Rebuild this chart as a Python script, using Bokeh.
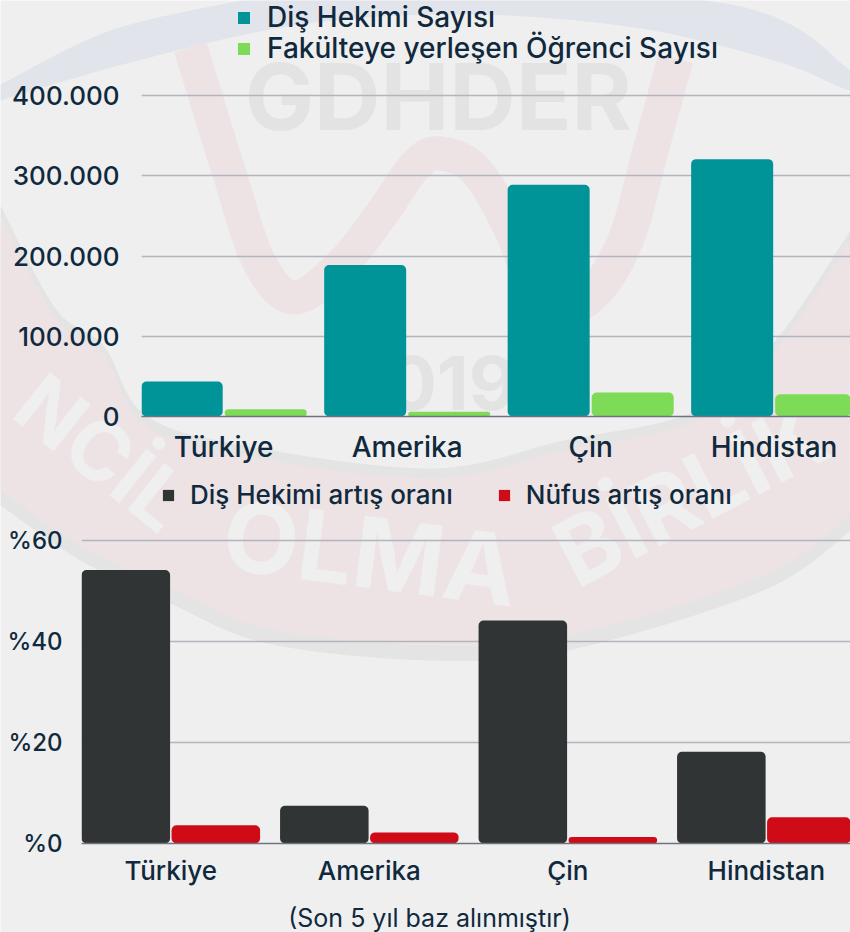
import numpy as np
from bokeh.core.properties import value
from bokeh.embed import file_html
from bokeh.resources import INLINE
from bokeh.plotting import figure
from bokeh.layouts import column
from bokeh.models import Range1d, FixedTicker, Legend, LegendItem

# ---------- data ----------
countries = ["Türkiye", "Amerika", "Çin", "Hindistan"]
dentists = [43600, 189000, 289000, 321000]
students = [9000, 5800, 30000, 27800]
dentist_growth = [54.2, 7.5, 44.2, 18.2]
population_growth = [3.6, 2.2, 1.3, 5.2]
ticks_top = [0, 100000, 200000, 300000, 400000]
tick_labels_top = ["0", "100.000", "200.000", "300.000", "400.000"]
ticks_bottom = [0, 20, 40, 60]
tick_labels_bottom = ["%0", "%20", "%40", "%60"]

FONT = "Inter Medium, Inter"
INK = "#10293d"
BG = "#efefef"
PINK = "#ede3e4"
BLUE = "#e1e4eb"
SHADE = "#e4e4e4"
MARK = "#e3e3e3"
GRID = "#b2b5bd"
AXIS = "#6d7480"


def smooth(pts, n=14):
    pts = np.array(pts, dtype=float)
    p = np.vstack([pts[0], pts, pts[-1]])
    out = []
    for i in range(1, len(p) - 2):
        for t in np.linspace(0, 1, n, endpoint=False):
            out.append(0.5 * ((2 * p[i]) + (-p[i - 1] + p[i + 1]) * t
                              + (2 * p[i - 1] - 5 * p[i] + 4 * p[i + 1] - p[i + 2]) * t ** 2
                              + (-p[i - 1] + 3 * p[i] - 3 * p[i + 1] + p[i + 2]) * t ** 3))
    out.append(pts[-1])
    return np.array(out)


def ribbon(pts, w):
    c = smooth(pts)
    d = np.gradient(c, axis=0)
    d /= np.maximum(np.hypot(d[:, 0], d[:, 1])[:, None], 1e-6)
    nrm = np.column_stack([-d[:, 1], d[:, 0]])
    return np.vstack([c + nrm * w / 2, (c - nrm * w / 2)[::-1]])


def closed(upper, lower):
    return np.vstack([smooth(upper), smooth(lower)])


# ---------- page background: the faded logo behind both charts ----------
back = figure(width=850, height=932, x_range=Range1d(0, 850), y_range=Range1d(932, 0), toolbar_location=None,
              output_backend="svg", min_border=0, background_fill_color=BG, border_fill_color=BG,
              outline_line_color=None, frame_align=False,
              styles={"position": "absolute", "left": "0", "top": "0"})
back.axis.visible = False
back.grid.visible = False
crescent_top = [(0, 215), (55, 318), (103, 355), (143, 423), (233, 453), (430, 478), (563, 450), (697, 420),
                (775, 350), (850, 240)]
crescent_low = [(850, 515), (763, 575), (567, 635), (430, 645), (267, 628), (170, 588), (80, 545), (0, 490)]
shapes = [
    (BLUE, closed([(0, 84), (110, 30), (240, 0)], [(240, 0), (705, 0), (850, 70), (850, 90), (780, 62),
                                                   (640, 28), (470, 14), (300, 24), (130, 62), (0, 100)])),
    (SHADE, closed([(x, y - 10) for x, y in crescent_top], [(x, y + 15) for x, y in crescent_low])),
    (PINK, closed(crescent_top, crescent_low)),
    (PINK, ribbon([(190, 47), (228, 170), (258, 260), (293, 297), (340, 265), (380, 215), (415, 165),
                   (440, 153), (477, 172), (515, 240), (540, 320)], 34)),
    (PINK, ribbon([(675, 58), (650, 150), (625, 240), (590, 295), (540, 320)], 36)),
]
back.patches(xs=[list(s[1][:, 0]) for s in shapes], ys=[list(s[1][:, 1]) for s in shapes],
             fill_color=[s[0] for s in shapes], line_color=None)
marks = [
    ("GDHDER", 438, 96, 92, 0.0, MARK),
    ("2019", 428, 382, 74, 0.0, MARK),
    ("NCİL", 102, 452, 82, -0.67, BG),
    ("OLMA", 370, 552, 98, -0.13, BG),
    ("BİRLİK", 690, 492, 92, 0.48, BG),
]
for txt, x, y, size, ang, colour in marks:
    back.text(x=[x], y=[y], text=[txt], angle=ang, text_font=value("Inter"), text_font_size=f"{size}px",
              text_font_style="bold", text_color=colour, text_align="center", text_baseline="middle")
back.text(x=[429], y=[917], text=["(Son 5 yıl baz alınmıştır)"], text_font=value("Inter"), text_font_size="25px",
          text_color=INK, text_align="center", text_baseline="middle")


def chart(height, left, bottom, x_range, y_end, ticks, labels, tick_px, x_px, standoff_y, standoff_x):
    p = figure(width=850, height=height, x_range=x_range, y_range=Range1d(0, y_end),
               toolbar_location=None, output_backend="svg", min_border_left=left, min_border_right=0,
               min_border_top=0, min_border_bottom=bottom, background_fill_color=None, border_fill_color=None,
               outline_line_color=None, frame_align=False, styles={"position": "relative"})
    p.xgrid.visible = False
    p.ygrid.ticker = FixedTicker(ticks=ticks)
    p.ygrid.grid_line_color = GRID
    p.ygrid.grid_line_width = 1.5
    for ax in (p.xaxis[0], p.yaxis[0]):
        ax.major_tick_line_color = None
        ax.minor_tick_line_color = None
        ax.major_tick_out = 0
        ax.major_tick_in = 0
        ax.minor_tick_out = 0
        ax.minor_tick_in = 0
        ax.major_label_text_font = FONT
        ax.major_label_text_color = INK
    p.yaxis.ticker = FixedTicker(ticks=ticks)
    p.yaxis.major_label_overrides = dict(zip(ticks, labels))
    p.yaxis.axis_line_color = None
    p.yaxis.major_label_standoff = standoff_y
    p.yaxis.major_label_text_font_size = f"{tick_px}px"
    idx = list(range(len(countries)))
    p.xaxis.ticker = FixedTicker(ticks=idx)
    p.xaxis.major_label_overrides = dict(zip(idx, countries))
    p.xaxis.axis_line_color = AXIS
    p.xaxis.axis_line_width = 1.5
    p.xaxis.major_label_standoff = standoff_x
    p.xaxis.major_label_text_font_size = f"{x_px}px"
    return p


x_pos = np.arange(len(countries))

# ---------- top chart ----------
p1 = chart(472, 141, 56, Range1d(-0.448, 3.416), 400000 * 416 / 320.7, ticks_top, tick_labels_top, 26, 28, 22, 13)
b1 = p1.vbar(x=x_pos - 0.229, top=dentists, width=0.447, bottom=0, fill_color="#009499", line_color=None,
             border_radius=5)
b2 = p1.vbar(x=x_pos + 0.229, top=students, width=0.447, bottom=0, fill_color="#7edb58", line_color=None,
             border_radius=5)
for label, renderer, loc_y in (("Diş Hekimi Sayısı", b1, 382), ("Fakülteye yerleşen Öğrenci Sayısı", b2, 351)):
    p1.add_layout(Legend(items=[LegendItem(label=label, renderers=[renderer])],
                         location=(95, loc_y), orientation="vertical", background_fill_alpha=0,
                         border_line_color=None, padding=0, margin=0, spacing=0, glyph_width=15, glyph_height=15,
                         label_standoff=16, label_height=24, label_text_font=FONT, label_text_font_size="28px",
                         label_text_color=INK, label_text_baseline="middle"), "center")

# ---------- bottom chart ----------
p2 = chart(460, 81, 89, Range1d(-0.45, 3.424), 60 * 371 / 302.7, ticks_bottom, tick_labels_bottom, 24, 26, 19, 11)
b3 = p2.vbar(x=x_pos - 0.2267, top=dentist_growth, width=0.446, bottom=0, fill_color="#313435", line_color=None,
             border_radius=5)
b4 = p2.vbar(x=x_pos + 0.2267, top=population_growth, width=0.446, bottom=0, fill_color="#cf0b18", line_color=None,
             border_radius=5)
leg2 = Legend(items=[LegendItem(label="Diş Hekimi artış oranı", renderers=[b3]),
                     LegendItem(label="Nüfus artış oranı", renderers=[b4])],
              location=(80, 333), orientation="horizontal", background_fill_alpha=0, border_line_color=None,
              padding=0, margin=0, spacing=44, glyph_width=14, glyph_height=14, label_standoff=15, label_height=24,
              label_text_font=FONT, label_text_font_size="26px", label_text_color=INK, label_text_baseline="middle")
p2.add_layout(leg2, "center")

layout = column(back, p1, p2, spacing=0)
open("out.html", "w").write(file_html(layout, INLINE))
